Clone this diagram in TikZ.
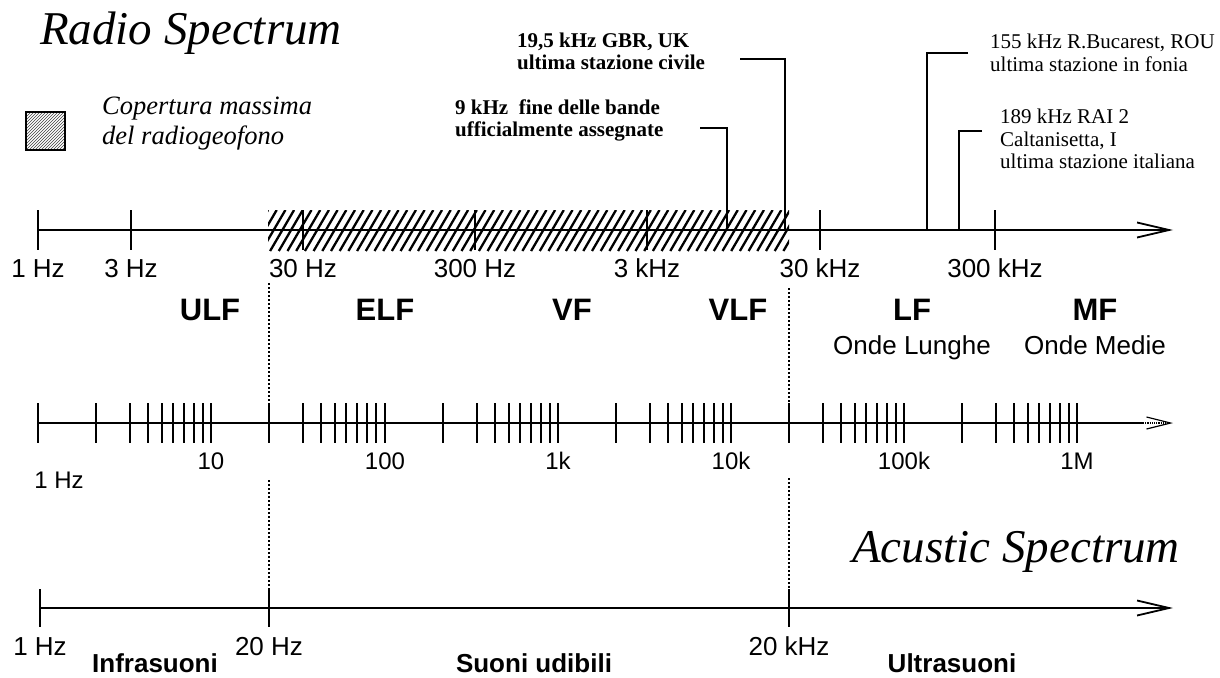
\documentclass[tikz,border=0pt]{standalone}
\usepackage{fontspec}
\setmainfont{Liberation Serif}
\setsansfont{Liberation Sans}
\usepackage{tikz}
\usetikzlibrary{arrows.meta,patterns}
\tikzset{
  titletext/.style={font=\fontsize{47}{50}\selectfont\itshape, anchor=base west, inner sep=0pt},
  legendtext/.style={font=\fontsize{26.5}{30}\selectfont\itshape, align=left, anchor=north west, inner sep=0pt},
  notetext/.style={font=\fontsize{21}{22.5}\selectfont, align=left, anchor=north west, inner sep=0pt},
  boldnote/.style={notetext, font=\fontsize{21}{22}\selectfont\bfseries},
  freqlabel/.style={font=\sffamily\fontsize{26}{28}\selectfont, anchor=base, inner sep=0pt},
  bandlabel/.style={font=\sffamily\bfseries\fontsize{31}{33}\selectfont, anchor=base, inner sep=0pt},
  decadelabel/.style={font=\sffamily\fontsize{24}{26}\selectfont, anchor=base, inner sep=0pt},
  rangelabel/.style={font=\sffamily\bfseries\fontsize{26}{28}\selectfont, anchor=base, inner sep=0pt},
  axisline/.style={line width=2pt, -{Straight Barb[length=32pt,width=15pt,line width=1.8pt]}},
  tickmark/.style={line width=2.4pt},
  bandsep/.style={line width=1.3pt, dash pattern=on 2pt off 2pt},
  leader/.style={line width=1.4pt},
  hatchline/.style={line width=2.3pt}
}

\begin{document}
\begin{tikzpicture}[x=1pt, y=-1pt]
\useasboundingbox (0,0) rectangle (1220,677);

% titles
\node[titletext] (radiotitle) at (40,45) {Radio Spectrum};
\node[titletext] (acustitle) at (852,562) {Acustic Spectrum};

% legend
\node[draw, line width=1.2pt, pattern=north east lines, pattern color=black!75,
      minimum width=39pt, minimum height=38pt, inner sep=0pt] (legbox) at (45.5,131) {};
\node[legendtext] (legtext) at (102,97) {Copertura massima\\del radiogeofono};

% station notes
\node[boldnote] (gbr) at (517,33) {19,5 kHz GBR, UK\\ultima stazione civile};
\node[boldnote] (bande) at (455,100) {9 kHz\ \ fine delle bande\\ufficialmente assegnate};
\node[notetext] (bucarest) at (990,34) {155 kHz R.Bucarest, ROU\\ultima stazione in fonia};
\node[notetext] (rai) at (1000,109) {189 kHz RAI 2\\Caltanisetta, I\\ultima stazione italiana};

% radio axis, hatched coverage first
\begin{scope}
  \clip (268,210) rectangle (789,251);
  \foreach \x in {244,252.7,...,800}
    \draw[hatchline] (\x,251) -- ++(24,-41);
\end{scope}
\coordinate (r0) at (38,230);
\coordinate (rend) at (1173,230);
\draw[axisline] (r0) -- (rend);
\foreach \x/\lab [count=\i] in {38/1 Hz,131/3 Hz,303/30 Hz,475/300 Hz,647/3 kHz,820/30 kHz,995/300 kHz} {
  \draw[tickmark] (\x,210) -- (\x,250);
  \node[freqlabel] (rlab\i) at (\x,277) {\lab};
}

% leaders from the notes
\coordinate (k19) at (740,59);  \coordinate (f19) at (785,230);
\coordinate (k9) at (700,128);  \coordinate (f9) at (727,230);
\coordinate (k155) at (968,53); \coordinate (f155) at (927,230);
\coordinate (k189) at (982,131); \coordinate (f189) at (959,230);
\draw[leader] (k19) -| (f19);
\draw[leader] (k9) -| (f9);
\draw[leader] (k155) -| (f155);
\draw[leader] (k189) -| (f189);

% bands
\foreach \x/\lab in {210/ULF,385/ELF,572/VF,738/VLF,912/LF,1095/MF}
  \node[bandlabel] (band\lab) at (\x,320) {\lab};
\node[freqlabel] (ondelunghe) at (912,354) {Onde Lunghe};
\node[freqlabel] (ondemedie) at (1095,354) {Onde Medie};

% log scale
\coordinate (m0) at (38,423);
\coordinate (mmid) at (1143,423);
\coordinate (mend) at (1173,423);
\draw[line width=2pt] (m0) -- (mmid);
\draw[line width=1.2pt, densely dotted, -{Straight Barb[length=24pt,width=12pt]}] (mmid) -- (mend);
\foreach \d in {38,211,385,558,731,904}
  \foreach \o in {0,58,92,110,124,135,146,156,165}
    \draw[tickmark] ({\d+\o},403) -- ({\d+\o},443);
\draw[tickmark] (1077,403) -- (1077,443);
\foreach \x/\lab [count=\i] in {211/10,385/100,558/1k,731/10k,904/100k,1077/1M}
  \node[decadelabel] (dlab\i) at (\x,469) {\lab};
\node[decadelabel] (dlab0) at (59,488) {1 Hz};

% acoustic axis
\coordinate (b0) at (40,608);
\coordinate (bend) at (1173,608);
\draw[axisline] (b0) -- (bend);
\foreach \x/\lab [count=\i] in {40/1 Hz,269/20 Hz,789/20 kHz} {
  \draw[tickmark] (\x,589) -- (\x,627);
  \node[freqlabel] (alab\i) at (\x,655) {\lab};
}
\node[rangelabel] (infra) at (155,672) {Infrasuoni};
\node[rangelabel] (udibili) at (534,672) {Suoni udibili};
\node[rangelabel] (ultra) at (952,672) {Ultrasuoni};

% band limits
\draw[bandsep] (269,283) -- (269,403) (269,480) -- (269,589);
\draw[bandsep] (789,288) -- (789,403) (789,478) -- (789,589);
\end{tikzpicture}
\end{document}
